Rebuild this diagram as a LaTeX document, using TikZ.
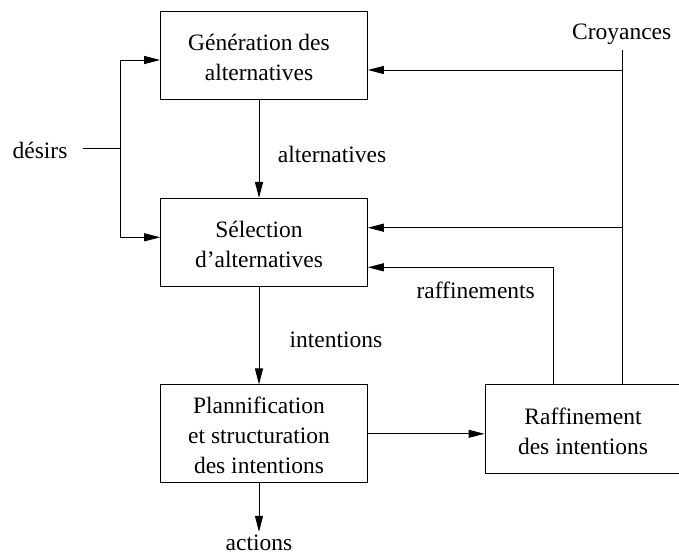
\documentclass[tikz,border=0pt]{standalone}
\usepackage{fontspec}
\setmainfont{Liberation Serif}
\usepackage{tikz}
\usetikzlibrary{arrows.meta}
\tikzset{
    boite/.style = {draw, line width=1.pt, inner sep=0pt},
    texte/.style = {align=center, inner sep=0pt, font=\fontsize{23.5}{30}\selectfont},
    fleche/.style = {-{Triangle[length=16pt,width=8pt]}, line width=1.pt},
    trait/.style = {line width=1.pt}
}

\begin{document}
\begin{tikzpicture}[line cap=butt,line join=miter,x=1pt,y=-1pt]
    \useasboundingbox (0,0) rectangle (679,554);
    
    % les boites
    \node [boite, minimum width=206.6pt, minimum height=87.6pt] (gen) at (264,55.5) {};
    \node [boite, minimum width=206.6pt, minimum height=87.7pt] (sel) at (264,242.2) {};
    \node [boite, minimum width=206.6pt, minimum height=97.7pt] (plan) at (264,433.8) {};
    \node [boite, minimum width=200pt, minimum height=89pt] (raff) at (585,428.8) {};
    \node [texte] (genT) at (259,57) {G\'en\'eration des\\alternatives};
    \node [texte] (selT) at (259,244.8) {S\'election\\d'alternatives};
    \node [texte] (planT) at (259,435.5) {Plannification\\et structuration\\des intentions};
    \node [texte] (raffT) at (583,431) {Raffinement\\des intentions};
    
    % entrees et sorties
    \node [texte] (desirs) at (40,150.8) {d\'esirs};
    \node [texte] (croy) at (621.7,34.4) {Croyances};
    \node [texte] (actions) at (259,543) {actions};
    \node [texte] (lalt) at (332,154) {alternatives};
    \node [texte] (lint) at (336,340) {intentions};
    \node [texte] (lraff) at (475.7,290) {raffinements};
    
    \coordinate (dsplit) at (120.7,148.3);
    \coordinate (dhaut) at (120.7,60);
    \coordinate (dbas) at (120.7,237.3);
    \coordinate (chaut) at (622.3,70);
    \coordinate (cbas) at (622.3,227.7);
    \coordinate (rcoin) at (553.3,267.3);
    
    % desirs
    \draw [trait, shorten <=15pt] (desirs.east |- dsplit) -- (dsplit);
    \draw [fleche] (dsplit) -- (dhaut) -- (dhaut -| gen.west);
    \draw [fleche] (dsplit) -- (dbas) -- (dbas -| sel.west);
    
    % croyances
    \draw [trait, shorten <=5.5pt] (chaut |- croy.south) -- (chaut |- raff.north);
    \draw [fleche] (chaut) -- (chaut -| gen.east);
    \draw [fleche] (cbas) -- (cbas -| sel.east);
    
    % flux vertical
    \draw [fleche] (genT |- gen.south) -- (genT |- sel.north);
    \draw [fleche] (selT |- sel.south) -- (selT |- plan.north);
    \draw [fleche, shorten >=3pt] (planT |- plan.south) -- (actions.north);
    
    % raffinement
    \draw [fleche] (plan.east) -- (plan.east -| raff.west);
    \draw [fleche] (rcoin |- raff.north) -- (rcoin) -- (rcoin -| sel.east);
\end{tikzpicture}
\end{document}
